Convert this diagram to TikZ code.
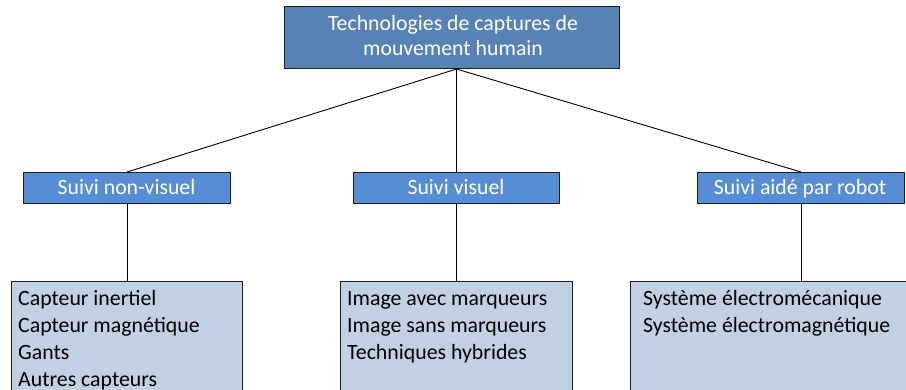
\documentclass[tikz,border=0pt]{standalone}
\usepackage{fontspec}
\setmainfont{Carlito}
\definecolor{topblue}{RGB}{88,129,182}
\definecolor{midblue}{RGB}{86,141,212}
\definecolor{lowblue}{RGB}{194,208,227}
\definecolor{edge}{RGB}{30,30,35}
\begin{document}
\begin{tikzpicture}[x=1pt,y=-1pt,
  boxshape/.style={draw=edge,line width=1pt,rectangle,inner sep=0pt,anchor=north west},
  topbox/.style={boxshape,fill=topblue},
  midbox/.style={boxshape,fill=midblue},
  lowbox/.style={boxshape,fill=lowblue},
  whitetxt/.style={text=white,font=\fontsize{21.8}{26}\selectfont,anchor=base,inner sep=0pt},
  blacktxt/.style={text=black,font=\fontsize{21.8}{26}\selectfont,anchor=base west,inner sep=0pt},
  link/.style={draw=black,line width=0.9pt}]
\useasboundingbox (0,0) rectangle (906,389);
\clip (0,0) rectangle (906,389);
\fill[white] (0,0) rectangle (906,389);
% boxes
\node[topbox,minimum width=335pt,minimum height=62pt] (top) at (284,6) {};
\node[midbox,minimum width=207pt,minimum height=31pt] (left) at (23,172) {};
\node[midbox,minimum width=206pt,minimum height=31pt] (mid) at (353,172) {};
\node[midbox,minimum width=207pt,minimum height=31pt] (right) at (697,172) {};
\node[lowbox,minimum width=231pt,minimum height=140pt] (lowleft) at (11,281) {};
\node[lowbox,minimum width=232pt,minimum height=140pt] (lowmid) at (340,281) {};
\node[lowbox,minimum width=300pt,minimum height=140pt] (lowright) at (630,281) {};
% connectors
\coordinate (hub) at (top.south -| mid.north);
\draw[link] (hub) -- (left.north);
\draw[link] (hub) -- (mid.north);
\draw[link] (hub) -- (right.north);
\draw[link] (left.south) -- (lowleft.north -| left.south);
\draw[link] (mid.south) -- (lowmid.north -| mid.south);
\draw[link] (right.south) -- (lowright.north -| right.south);
% texts
\node[whitetxt] (t1) at (453,30) {Technologies de captures de};
\node[whitetxt] (t2) at (453,55) {mouvement humain};
\node[whitetxt] (l1) at (126.5,194) {Suivi non-visuel};
\node[whitetxt] (m1) at (456,194) {Suivi visuel};
\node[whitetxt] (r1) at (800,194) {Suivi aidé par robot};
\node[blacktxt] (a1) at (18,305) {Capteur inertiel};
\node[blacktxt] (a2) at (18,332) {Capteur magnétique};
\node[blacktxt] (a3) at (18,359) {Gants};
\node[blacktxt] (a4) at (18,386) {Autres capteurs};
\node[blacktxt] (b1) at (347,305) {Image avec marqueurs};
\node[blacktxt] (b2) at (347,332) {Image sans marqueurs};
\node[blacktxt] (b3) at (347,359) {Techniques hybrides};
\node[blacktxt] (c1) at (643,305) {Système électromécanique};
\node[blacktxt] (c2) at (643,332) {Système électromagnétique};
\end{tikzpicture}
\end{document}
